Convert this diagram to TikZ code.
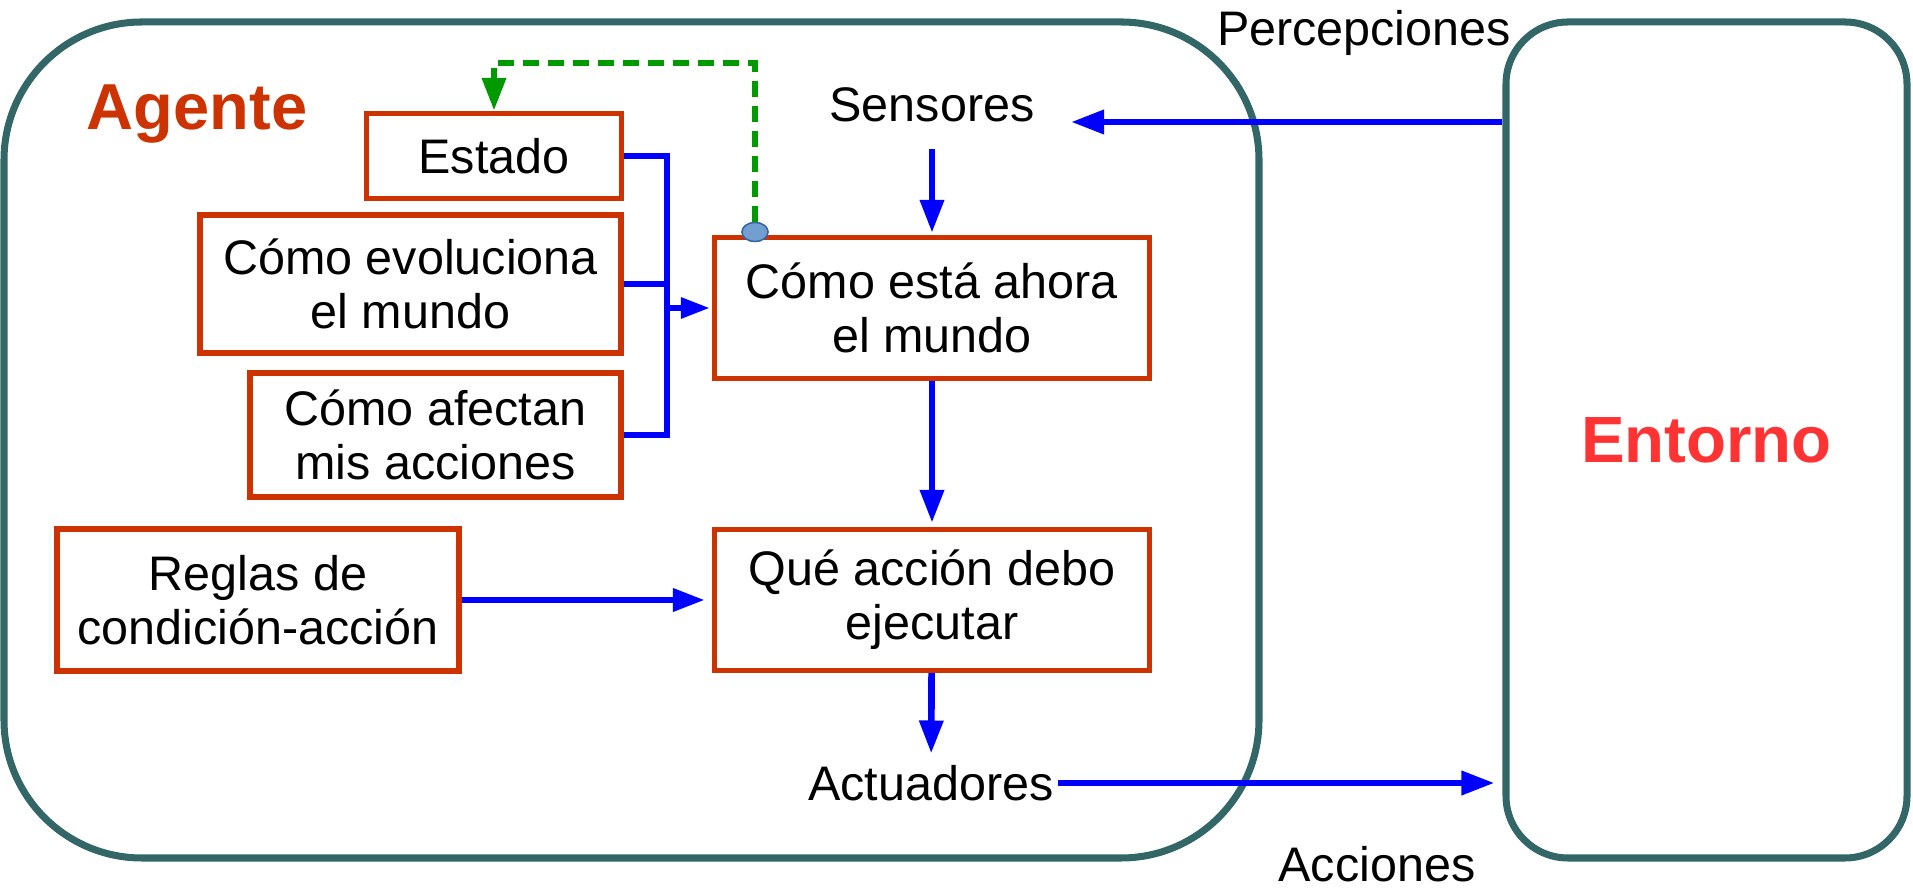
\documentclass[tikz,border=0pt]{standalone}
\usepackage{fontspec}
\setmainfont{Liberation Sans}
\usetikzlibrary{arrows.meta,shapes.geometric}
\definecolor{agentTeal}{HTML}{336666}
\definecolor{boxRed}{HTML}{CC3300}
\definecolor{flowBlue}{HTML}{0000FF}
\definecolor{memGreen}{HTML}{009900}
\definecolor{dotBlue}{HTML}{729FCF}
\definecolor{dotEdge}{HTML}{3465A4}
\definecolor{envRed}{HTML}{FF3333}

\begin{document}
\begin{tikzpicture}
    \tikzstyle{every node} = [font=\fontsize{13.8}{15.4}\selectfont]
    \tikzstyle{outerBox} = [draw=agentTeal, line width=2pt, rectangle, inner sep=0pt, minimum height=8.36cm]
    \tikzstyle{block} = [draw=boxRed, line width=1.5pt, rectangle, fill=white, align=center, inner sep=0pt, minimum height=1.41cm]
    \tikzstyle{tag} = [inner sep=0pt]
    \tikzstyle{flow} = [-{Triangle[length=3.3mm,width=2.3mm]}, draw=flowBlue, line width=1.9pt]
    \tikzstyle{link} = [draw=flowBlue, line width=1.5pt]
    \tikzstyle{memory} = [-{Triangle[length=3.3mm,width=2.3mm]}, draw=memGreen, line width=1.9pt, dash pattern=on 1.6mm off 0.9mm]
    \tikzstyle{dot} = [ellipse, draw=dotEdge, line width=0.4pt, fill=dotBlue, inner sep=0pt, minimum width=2.6mm, minimum height=1.9mm]
    \useasboundingbox (0,0) rectangle (19.13,-8.96);

    % place nodes
    \node[outerBox, minimum width=12.55cm, rounded corners=1.38cm] (agente) at (6.315,-4.40) {};
    \node[outerBox, minimum width=4.01cm, rounded corners=0.62cm, text=envRed,
      font=\fontsize{18.6}{20}\selectfont\bfseries] (entorno) at (17.065,-4.40) {Entorno};
    \node[tag, text=boxRed, font=\fontsize{18.5}{20}\selectfont\bfseries] (titulo) at (1.97,-1.14) {Agente};

    \node[block, minimum width=2.55cm, minimum height=0.85cm] (estado) at (4.94,-1.56) {Estado};
    \node[block, minimum width=4.21cm, minimum height=1.38cm] (evoluciona) at (4.105,-2.84) {Cómo evoluciona\\el mundo};
    \node[block, minimum width=3.71cm, minimum height=1.24cm] (afectan) at (4.355,-4.35) {Cómo afectan\\mis acciones};
    \node[block, minimum width=4.02cm, minimum height=1.42cm] (reglas) at (2.58,-6.0) {Reglas de\\condición-acción};
    \node[block, minimum width=4.35cm] (ahora) at (9.32,-3.08) {Cómo está ahora\\el mundo};
    \node[block, minimum width=4.35cm] (accion) at (9.32,-6.0) {Qué acción debo\\ejecutar};

    \node[tag] (sensores) at (9.32,-1.05) {Sensores};
    \node[tag] (actuadores) at (9.31,-7.83) {Actuadores};
    \node[tag] (percepciones) at (13.64,-0.33) {Percepciones};
    \node[tag] (acciones) at (13.77,-8.64) {Acciones};

    \node[dot] (memoria) at (7.55,-2.32) {};
    \coordinate (junta) at (6.67,-3.08);
    \coordinate (percIn) at (10.71,-1.22);

    % Connections
    \draw[flow]
    (percIn -| entorno.west)--(percIn);
    \draw[flow,shorten <=2.6mm,shorten >=0.2mm]
    (sensores)--(ahora);
    \draw[flow,shorten >=0.4mm]
    (ahora)--(accion);
    \draw[flow,shorten >=1.1mm]
    (accion)--(actuadores);
    \draw[flow,shorten <=0.4mm,shorten >=0.8mm]
    (actuadores)--(actuadores -| entorno.west);
    \draw[flow,-{Triangle[length=3.2mm,width=2.2mm]},shorten >=0.7mm]
    (reglas)--(accion);

    % what the world is like now
    \draw[link]
    (estado.east) -| (junta |- afectan.east)--(afectan.east);
    \draw[link]
    (evoluciona.east)--(evoluciona.east -| junta);
    \draw[flow,line width=1.7pt,-{Triangle[length=2.9mm,width=2mm]},shorten >=0.2mm]
    (junta)--(ahora.west);

    % state feedback
    \draw[memory]
    (memoria) |- ([yshift=4.8mm]estado.north)--(estado.north);
    \node[dot] at (memoria) {};

\end{tikzpicture}
\end{document}
